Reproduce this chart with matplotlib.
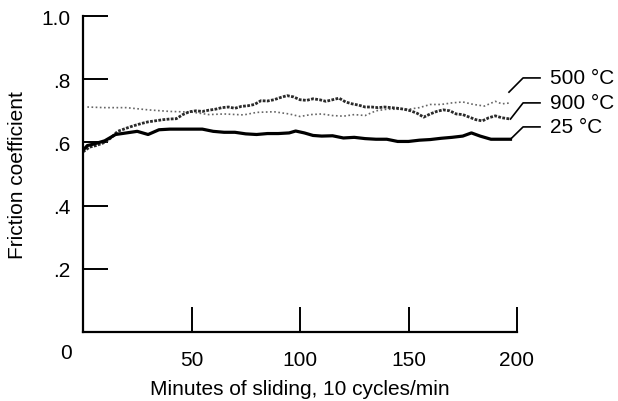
import matplotlib.pyplot as plt

plt.rcParams['font.family'] = ['Liberation Sans', 'DejaVu Sans']

# 25 C run (solid heavy line)
t25 = [0, 2, 5, 10, 15, 20, 25, 30, 35, 40, 45, 50, 55, 60, 65, 70, 75, 80, 85,
       90, 95, 98, 102, 106, 110, 115, 120, 125, 130, 135, 140, 145, 150, 155,
       160, 165, 170, 175, 179, 183, 188, 192, 197]
f25 = [0.575, 0.59, 0.595, 0.605, 0.625, 0.63, 0.635, 0.625, 0.64, 0.642, 0.642,
       0.642, 0.642, 0.635, 0.632, 0.632, 0.627, 0.625, 0.628, 0.628, 0.63, 0.636,
       0.63, 0.622, 0.62, 0.621, 0.614, 0.616, 0.612, 0.61, 0.61, 0.603, 0.603,
       0.607, 0.609, 0.613, 0.616, 0.62, 0.63, 0.62, 0.61, 0.61, 0.61]

# 900 C run (heavy dotted)
t900 = [0, 3, 6, 10, 13, 16, 20, 23, 27, 30, 33, 37, 40, 43, 46, 49, 52, 55, 58,
        61, 64, 67, 70, 73, 76, 79, 82, 85, 88, 91, 94, 97, 100, 103, 106, 109,
        112, 115, 118, 121, 124, 127, 130, 133, 136, 139, 142, 145, 148, 151, 154,
        157, 160, 163, 166, 169, 172, 175, 178, 181, 184, 187, 190, 193, 197]
f900 = [0.57, 0.585, 0.59, 0.60, 0.615, 0.635, 0.645, 0.652, 0.66, 0.665, 0.668,
        0.672, 0.674, 0.675, 0.688, 0.697, 0.70, 0.698, 0.702, 0.705, 0.71, 0.712,
        0.708, 0.714, 0.716, 0.72, 0.732, 0.731, 0.735, 0.742, 0.748, 0.744, 0.735,
        0.733, 0.738, 0.735, 0.73, 0.735, 0.74, 0.728, 0.722, 0.718, 0.712, 0.712,
        0.71, 0.712, 0.71, 0.708, 0.705, 0.70, 0.692, 0.68, 0.69, 0.698, 0.703,
        0.70, 0.69, 0.688, 0.68, 0.672, 0.668, 0.678, 0.684, 0.678, 0.674]

# 500 C run (light dotted)
t500 = [2, 10, 20, 30, 40, 50, 58, 65, 74, 80, 88, 95, 100, 105, 110, 115, 120,
        125, 130, 135, 140, 150, 155, 160, 165, 170, 175, 180, 185, 190, 193, 197]
f500 = [0.712, 0.71, 0.71, 0.703, 0.698, 0.696, 0.688, 0.69, 0.687, 0.695, 0.697,
        0.69, 0.682, 0.688, 0.69, 0.685, 0.683, 0.688, 0.685, 0.70, 0.705, 0.705,
        0.71, 0.72, 0.72, 0.725, 0.728, 0.72, 0.715, 0.73, 0.722, 0.725]

xticks = [50, 100, 150, 200]
yticks = [0.2, 0.4, 0.6, 0.8, 1.0]
ylabels = ['.2', '.4', '.6', '.8', '1.0']

fig = plt.figure(figsize=(6.18, 4.02), dpi=100)
ax = fig.add_axes([83 / 618, 69 / 402, 434 / 618, 316 / 402])

ax.plot(t500, f500, color='#666666', lw=1.2, linestyle=(0, (1, 1.5)))
ax.plot(t900, f900, color='#2a2a2a', lw=2.0, linestyle=(0, (1, 0.5)))
ax.plot(t25, f25, color='black', lw=2.3)

# leader lines to curve labels
leaders = [('500 °C', 196.3, 0.759, 0.804),
           ('900 °C', 197, 0.674, 0.725),
           ('25 °C', 197, 0.61, 0.649)]
for name, x0, y0, y1 in leaders:
    ax.plot([x0, 202.8, 210.6], [y0, y1, y1], color='black', lw=1.2, clip_on=False)
    ax.text(215, y1, name, fontsize=15, va='center', ha='left')

ax.set_xlim(0, 200)
ax.set_ylim(0, 1.0)
ax.set_xticks(xticks)
ax.set_yticks(yticks)
ax.set_yticklabels(ylabels)
ax.tick_params(direction='in', length=18, width=1.4, labelsize=15)
ax.tick_params(axis='x', pad=13)
ax.tick_params(axis='y', pad=9)
ax.text(-7.8, -0.064, '0', fontsize=15, ha='center', va='center')

for s in ['top', 'right']:
    ax.spines[s].set_visible(False)
for s in ['left', 'bottom']:
    ax.spines[s].set_linewidth(1.6)

ax.set_xlabel('Minutes of sliding, 10 cycles/min', fontsize=15)
ax.set_ylabel('Friction coefficient', fontsize=15)
ax.xaxis.set_label_coords(0.5, -0.148)
ax.yaxis.set_label_coords(-0.129, 0.5)

fig.savefig('out.png', dpi=100)
